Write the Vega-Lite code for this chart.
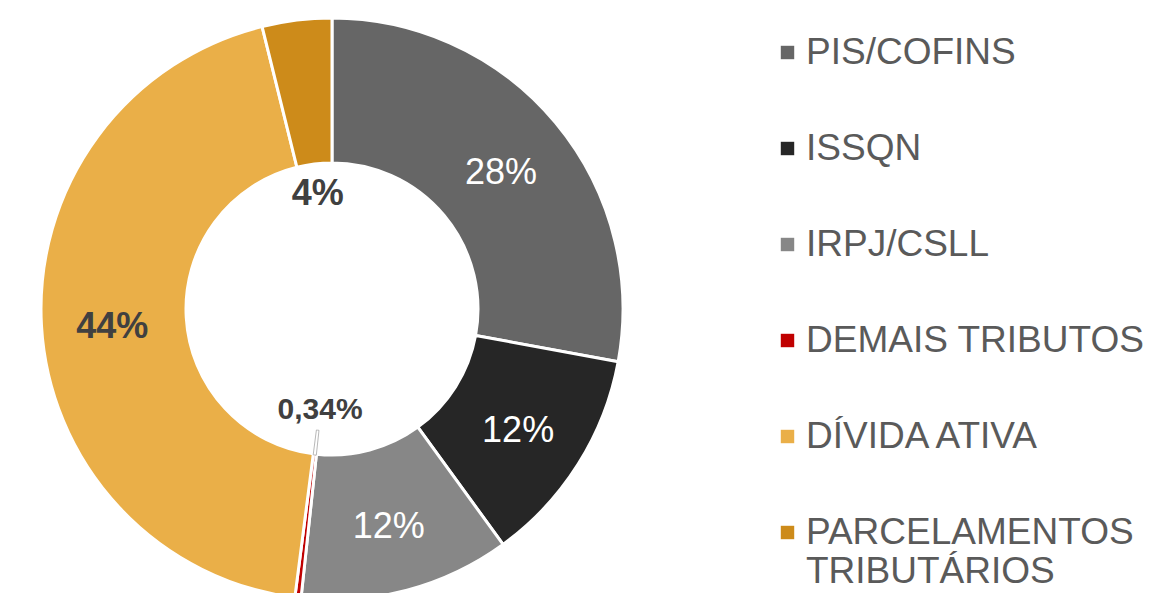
{
  "$schema": "https://vega.github.io/schema/vega-lite/v6.json",
  "width": 664,
  "height": 618,
  "autosize": "none",
  "padding": {"left": 0, "top": 0, "right": 489, "bottom": 0},
  "background": "white",
  "config": {"view": {"stroke": null}, "font": "Liberation Sans"},
  "data": {
    "values": [
      {"k": 1, "categoria": "PIS/COFINS", "valor": 27.9, "rotulo": "28%"},
      {"k": 2, "categoria": "ISSQN", "valor": 12.1, "rotulo": "12%"},
      {"k": 3, "categoria": "IRPJ/CSLL", "valor": 11.7, "rotulo": "12%"},
      {"k": 4, "categoria": "DEMAIS TRIBUTOS", "valor": 0.34, "rotulo": "0,34%"},
      {"k": 5, "categoria": "DÍVIDA ATIVA", "valor": 44.1, "rotulo": "44%"},
      {"k": 6, "categoria": "PARCELAMENTOS TRIBUTÁRIOS", "valor": 3.86, "rotulo": "4%"}
    ]
  },
  "encoding": {
    "theta": {"field": "valor", "type": "quantitative", "stack": true},
    "order": {"field": "k", "type": "quantitative"}
  },
  "layer": [
    {
      "mark": {"type": "arc", "outerRadius": 291, "innerRadius": 146, "stroke": "white", "strokeWidth": 3},
      "encoding": {
        "color": {
          "field": "categoria",
          "type": "nominal",
          "sort": ["PIS/COFINS", "ISSQN", "IRPJ/CSLL", "DEMAIS TRIBUTOS", "DÍVIDA ATIVA", "PARCELAMENTOS TRIBUTÁRIOS"],
          "scale": {
            "domain": ["PIS/COFINS", "ISSQN", "IRPJ/CSLL", "DEMAIS TRIBUTOS", "DÍVIDA ATIVA", "PARCELAMENTOS TRIBUTÁRIOS"],
            "range": ["#666666", "#262626", "#878787", "#C00000", "#EAAF48", "#CD8B1A"]
          },
          "legend": {
            "title": null,
            "orient": "none",
            "legendX": 769,
            "legendY": 34,
            "padding": 0,
            "symbolType": "square",
            "symbolSize": 180,
            "symbolStrokeWidth": 0,
            "symbolOpacity": 1,
            "labelFont": "Liberation Sans",
            "labelFontSize": 37,
            "labelColor": "#5A5A5A",
            "labelOffset": 0,
            "labelLimit": 400,
            "labelBaseline": "middle",
            "rowPadding": 58,
            "labelExpr": "datum.label == 'PARCELAMENTOS TRIBUTÁRIOS' ? ['PARCELAMENTOS', 'TRIBUTÁRIOS'] : datum.label"
          }
        }
      }
    },
    {
      "mark": {"type": "arc", "outerRadius": 147, "innerRadius": 122, "fill": null, "fillOpacity": 0, "stroke": "#A6A6A6", "strokeWidth": 0.8},
      "encoding": {
        "strokeOpacity": {"condition": {"test": "datum.k == 4", "value": 1}, "value": 0}
      }
    },
    {
      "mark": {"type": "text", "radius": 220, "fontSize": 36, "font": "Liberation Sans", "color": "white", "dy": 5},
      "encoding": {
        "text": {"condition": {"test": "datum.k <= 3", "field": "rotulo"}, "value": ""}
      }
    },
    {
      "mark": {"type": "text", "radius": 220, "fontSize": 36, "fontWeight": "bold", "font": "Liberation Sans", "color": "#404040", "dy": 5},
      "encoding": {
        "text": {"condition": {"test": "datum.k == 5", "field": "rotulo"}, "value": ""}
      }
    },
    {
      "mark": {"type": "text", "radius": 118, "fontSize": 36, "fontWeight": "bold", "font": "Liberation Sans", "color": "#404040", "dy": 2},
      "encoding": {
        "text": {"condition": {"test": "datum.k == 6", "field": "rotulo"}, "value": ""}
      }
    },
    {
      "mark": {"type": "text", "radius": 102, "fontSize": 30, "fontWeight": "bold", "font": "Liberation Sans", "color": "#404040"},
      "encoding": {
        "text": {"condition": {"test": "datum.k == 4", "field": "rotulo"}, "value": ""}
      }
    }
  ]
}
